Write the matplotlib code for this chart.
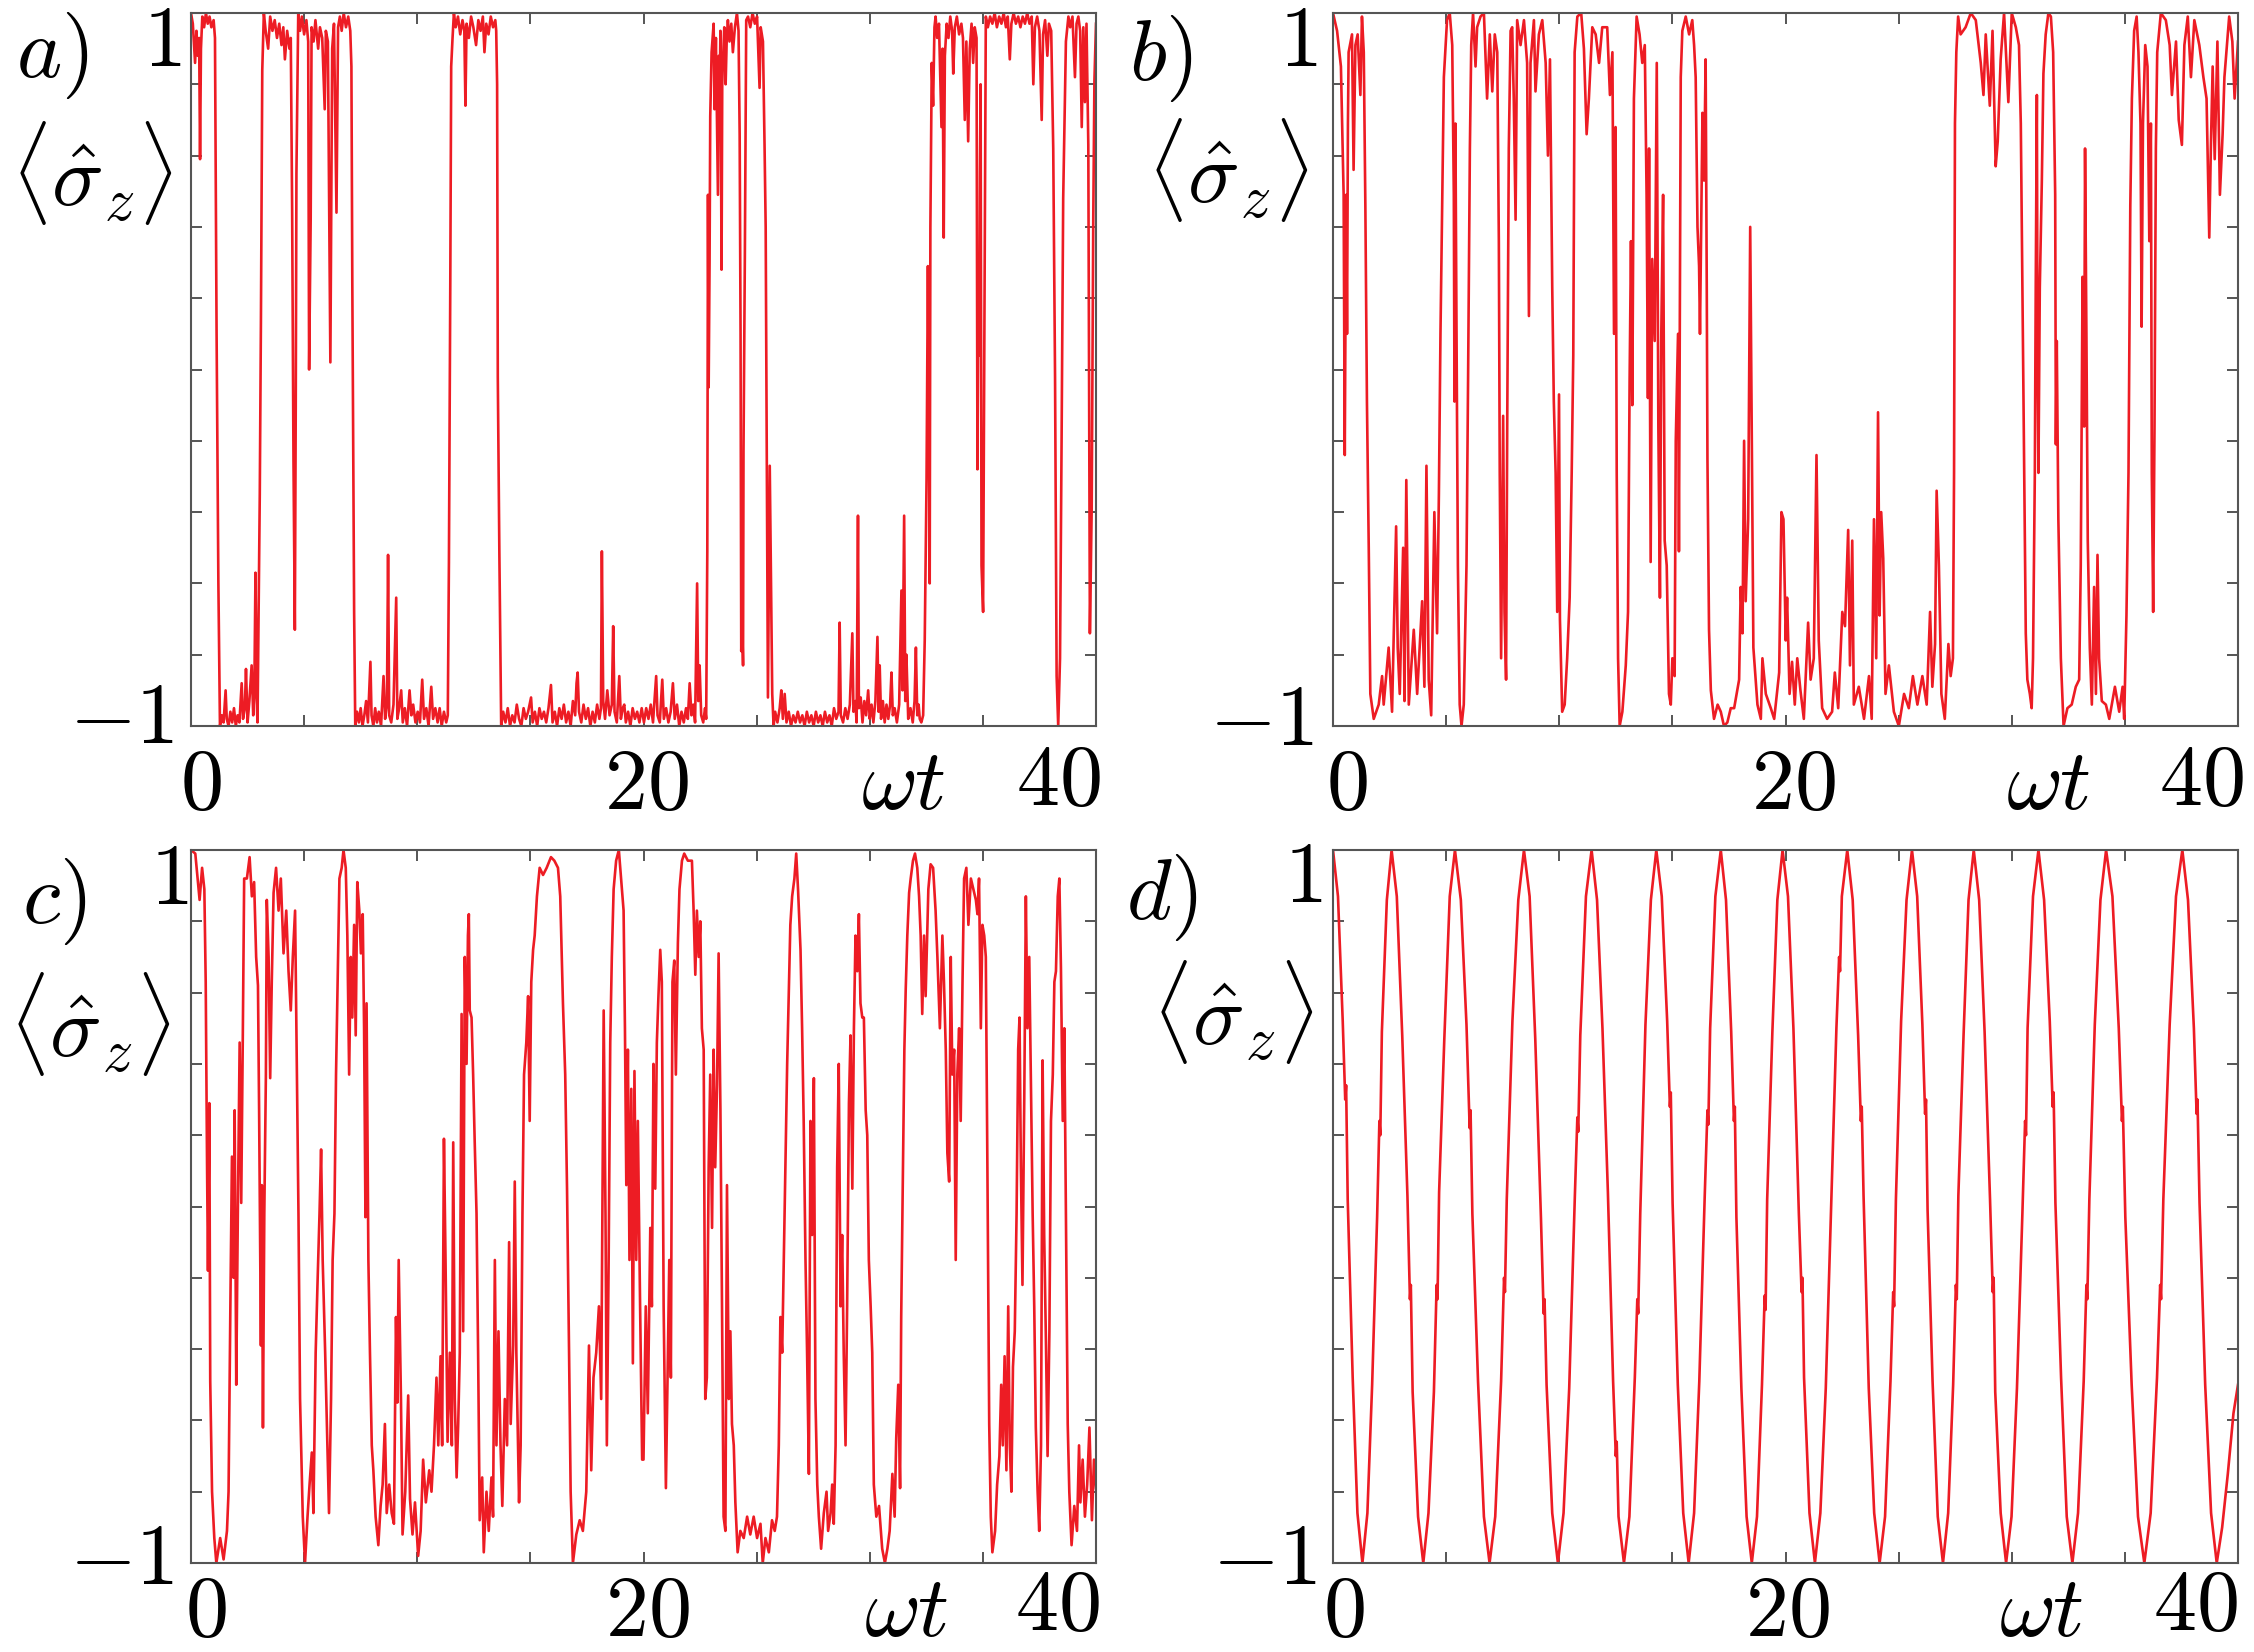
import matplotlib
matplotlib.use("Agg")
import matplotlib.pyplot as plt
import numpy as np

plt.rcParams['mathtext.fontset'] = 'cm'
plt.rcParams['font.family'] = 'serif'

# <sigma_z>(omega t), (t, value) pairs
trace_a = [
    (0.00, 1.00), (0.08, 0.97), (0.18, 0.86), (0.24, 0.95), (0.30, 0.88), (0.36, 0.93), (0.40, 0.59),
    (0.44, 0.90), (0.50, 0.99), (0.58, 0.96), (0.66, 1.00), (0.74, 0.97), (0.82, 0.99), (0.90, 0.96),
    (1.00, 0.98), (1.06, 0.93), (1.13, 0.11), (1.21, -0.60), (1.28, -1.00), (1.36, -0.97), (1.44, -0.99),
    (1.53, -0.90), (1.58, -0.98), (1.66, -1.00), (1.74, -0.96), (1.82, -0.99), (1.90, -0.95), (1.98, -1.00),
    (2.06, -0.97), (2.14, -0.99), (2.24, -0.88), (2.30, -0.98), (2.38, -0.95), (2.43, -0.84), (2.50, -0.99),
    (2.58, -0.93), (2.68, -0.83), (2.75, -0.97), (2.80, -0.90), (2.85, -0.57), (2.90, -0.92), (2.94, -0.99),
    (3.04, -0.35), (3.09, 0.13), (3.15, 0.84), (3.22, 1.00), (3.30, 0.95), (3.41, 0.90), (3.50, 0.99),
    (3.60, 0.95), (3.70, 0.98), (3.80, 0.93), (3.90, 0.97), (4.00, 0.91), (4.08, 0.96), (4.15, 0.87),
    (4.25, 0.95), (4.35, 0.90), (4.41, 0.93), (4.47, 0.45), (4.53, -0.26), (4.59, -0.73), (4.63, -0.10),
    (4.66, 0.55), (4.74, 1.00), (4.82, 0.95), (4.90, 0.99), (5.00, 0.94), (5.10, 0.98), (5.18, 0.92),
    (5.22, 0.00), (5.29, 0.42), (5.33, 0.96), (5.42, 0.92), (5.50, 0.98), (5.62, 0.90), (5.70, 0.96),
    (5.80, 0.93), (5.91, 0.73), (5.96, 0.95), (6.05, 0.92), (6.16, 0.02), (6.24, 0.90), (6.32, 0.97),
    (6.43, 0.44), (6.50, 0.96), (6.58, 0.99), (6.66, 0.95), (6.75, 1.00), (6.85, 0.96), (6.95, 0.99),
    (7.04, 0.95), (7.09, 0.85), (7.13, 0.24), (7.21, -0.68), (7.26, -1.00), (7.34, -0.96), (7.42, -0.99),
    (7.50, -0.95), (7.58, -1.00), (7.66, -0.97), (7.74, -0.93), (7.82, -0.99), (7.93, -0.82), (7.98, -0.97),
    (8.06, -1.00), (8.14, -0.95), (8.22, -0.99), (8.30, -0.96), (8.40, -1.00), (8.51, -0.86), (8.58, -0.98),
    (8.66, -0.94), (8.71, -0.52), (8.76, -0.97), (8.85, -0.99), (8.95, -0.94), (9.07, -0.64), (9.12, -0.98),
    (9.20, -0.95), (9.29, -0.90), (9.36, -0.99), (9.45, -0.95), (9.55, -1.00), (9.66, -0.90), (9.74, -0.97),
    (9.82, -0.94), (9.92, -0.99), (10.02, -0.96), (10.12, -0.99), (10.22, -0.87), (10.30, -0.98), (10.40, -0.95),
    (10.50, -1.00), (10.62, -0.89), (10.70, -0.98), (10.80, -0.95), (10.90, -0.99), (10.99, -0.95), (11.08, -1.00),
    (11.18, -0.96), (11.28, -0.99), (11.35, -0.97), (11.40, -0.54), (11.46, 0.24), (11.50, 0.85), (11.56, 0.93),
    (11.62, 1.00), (11.70, 0.96), (11.80, 0.99), (11.90, 0.94), (12.00, 0.98), (12.08, 0.95), (12.13, 0.74),
    (12.18, 0.97), (12.28, 0.93), (12.38, 0.99), (12.48, 0.96), (12.60, 0.91), (12.70, 0.98), (12.80, 0.95),
    (12.90, 0.99), (12.97, 0.89), (13.05, 0.97), (13.15, 0.94), (13.25, 0.99), (13.35, 0.96), (13.45, 0.98),
    (13.49, 0.95), (13.53, 0.80), (13.56, -0.02), (13.63, -0.52), (13.71, -1.00), (13.80, -0.96), (13.90, -0.99),
    (14.00, -0.95), (14.10, -1.00), (14.20, -0.97), (14.30, -0.99), (14.40, -0.94), (14.50, -0.98), (14.60, -1.00),
    (14.70, -0.95), (14.80, -0.98), (14.90, -0.96), (15.03, -0.92), (15.10, -0.99), (15.20, -0.96), (15.30, -1.00),
    (15.40, -0.95), (15.50, -0.98), (15.60, -0.96), (15.70, -0.99), (15.80, -0.95), (15.91, -0.885), (15.98, -0.99),
    (16.08, -0.96), (16.18, -1.00), (16.28, -0.95), (16.38, -0.98), (16.48, -0.94), (16.58, -0.99), (16.68, -0.96),
    (16.78, -1.00), (16.88, -0.93), (16.98, -0.97), (17.04, -0.88), (17.09, -0.85), (17.15, -0.96), (17.25, -0.99),
    (17.35, -0.94), (17.45, -0.98), (17.55, -0.95), (17.65, -1.00), (17.75, -0.96), (17.85, -0.99), (17.95, -0.94),
    (18.05, -0.98), (18.12, -0.95), (18.16, -0.51), (18.22, -0.93), (18.30, -0.98), (18.40, -0.90), (18.50, -0.97),
    (18.60, -0.94), (18.66, -0.72), (18.72, -0.96), (18.82, -0.99), (18.93, -0.86), (19.00, -0.98), (19.08, -0.95),
    (19.15, -0.94), (19.22, -0.99), (19.32, -0.96), (19.42, -1.00), (19.52, -0.95), (19.62, -0.98), (19.72, -0.96),
    (19.82, -0.99), (19.92, -0.95), (20.02, -0.99), (20.12, -0.95), (20.22, -0.98), (20.32, -0.94), (20.42, -0.99),
    (20.56, -0.86), (20.62, -0.97), (20.72, -0.99), (20.83, -0.87), (20.90, -0.98), (21.00, -0.95), (21.10, -0.99),
    (21.20, -0.96), (21.30, -0.88), (21.38, -0.98), (21.48, -0.94), (21.58, -1.00), (21.68, -0.96), (21.78, -0.99),
    (21.88, -0.95), (21.96, -0.98), (22.04, -0.88), (22.12, -0.97), (22.20, -0.94), (22.28, -0.99), (22.37, -0.60),
    (22.42, -0.93), (22.48, -0.83), (22.55, -0.97), (22.64, -0.99), (22.72, -0.95), (22.77, -0.98), (22.82, -0.51),
    (22.85, 0.49), (22.88, -0.05), (22.92, 0.30), (22.95, 0.71), (23.01, 0.89), (23.10, 0.97), (23.14, 0.73),
    (23.20, 0.93), (23.29, 0.49), (23.33, 0.88), (23.36, 0.74), (23.40, 0.95), (23.45, 0.28), (23.48, 0.80),
    (23.51, 0.86), (23.57, 0.96), (23.63, 0.80), (23.68, 0.93), (23.73, 0.98), (23.80, 0.92), (23.88, 0.97),
    (23.95, 0.89), (24.04, 0.96), (24.13, 1.00), (24.20, 0.95), (24.25, 0.66), (24.29, 0.10), (24.32, -0.79),
    (24.36, -0.70), (24.40, -0.83), (24.42, -0.23), (24.48, 0.32), (24.54, 0.98), (24.62, 0.99), (24.72, 0.96),
    (24.82, 1.00), (24.92, 0.97), (25.02, 0.99), (25.13, 0.79), (25.18, 0.96), (25.28, 0.92), (25.35, 0.63),
    (25.40, 0.40), (25.46, -0.42), (25.50, -0.92), (25.58, -0.27), (25.65, -0.68), (25.69, -0.91), (25.75, -1.00),
    (25.82, -0.96), (25.92, -0.99), (26.02, -0.95), (26.09, -0.90), (26.16, -0.98), (26.24, -0.91), (26.32, -0.99),
    (26.42, -0.96), (26.52, -1.00), (26.62, -0.97), (26.72, -0.99), (26.82, -0.96), (26.92, -0.99), (27.02, -0.97),
    (27.12, -1.00), (27.22, -0.96), (27.32, -0.99), (27.42, -0.97), (27.52, -1.00), (27.62, -0.96), (27.72, -0.99),
    (27.82, -0.97), (27.92, -1.00), (28.02, -0.96), (28.12, -0.99), (28.22, -0.97), (28.32, -1.00), (28.42, -0.95),
    (28.52, -0.98), (28.62, -0.96), (28.67, -0.71), (28.72, -0.97), (28.82, -0.99), (28.92, -0.95), (29.02, -0.98),
    (29.12, -0.94), (29.23, -0.74), (29.28, -0.96), (29.36, -0.93), (29.42, -0.99), (29.48, -0.41), (29.52, -0.95),
    (29.60, -0.92), (29.68, -0.99), (29.76, -0.93), (29.84, -0.97), (29.93, -0.90), (30.00, -0.98), (30.08, -0.94),
    (30.16, -0.99), (30.25, -0.93), (30.34, -0.75), (30.39, -0.96), (30.44, -0.83), (30.50, -0.98), (30.58, -0.93),
    (30.66, -0.99), (30.74, -0.94), (30.82, -0.98), (30.90, -0.94), (30.96, -0.85), (31.02, -0.97), (31.10, -0.95),
    (31.20, -0.99), (31.30, -0.94), (31.40, -0.62), (31.45, -0.90), (31.52, -0.41), (31.57, -0.93), (31.62, -0.80),
    (31.70, -0.98), (31.80, -0.95), (31.90, -0.99), (31.98, -0.93), (32.04, -0.78), (32.10, -0.97), (32.16, -0.94),
    (32.21, -0.98), (32.28, -0.99), (32.36, -0.97), (32.43, -0.76), (32.51, -0.31), (32.57, 0.29), (32.62, -0.20),
    (32.65, -0.60), (32.68, 0.40), (32.74, 0.86), (32.80, 0.74), (32.86, 0.96), (32.91, 0.99), (32.98, 0.93),
    (33.06, 0.97), (33.17, 0.68), (33.22, 0.90), (33.27, 0.37), (33.32, 0.88), (33.40, 0.97), (33.48, 0.93),
    (33.56, 0.99), (33.64, 0.95), (33.69, 0.83), (33.76, 0.96), (33.85, 0.99), (33.95, 0.94), (34.05, 0.97),
    (34.12, 0.93), (34.20, 0.70), (34.27, 0.92), (34.35, 0.64), (34.42, 0.90), (34.50, 0.97), (34.57, 0.86),
    (34.64, 0.96), (34.72, 0.93), (34.76, -0.28), (34.80, 0.20), (34.84, 0.04), (34.87, 0.55), (34.90, 0.80),
    (34.94, -0.55), (35.01, -0.68), (35.05, -0.10), (35.09, 0.50), (35.13, 0.99), (35.22, 0.96), (35.32, 0.99),
    (35.42, 0.97), (35.52, 1.00), (35.62, 0.96), (35.72, 0.99), (35.82, 0.97), (35.92, 1.00), (36.02, 0.96),
    (36.10, 0.99), (36.19, 0.87), (36.26, 0.97), (36.36, 1.00), (36.46, 0.97), (36.56, 0.99), (36.66, 0.96),
    (36.76, 0.99), (36.86, 0.97), (36.96, 1.00), (37.06, 0.97), (37.16, 0.99), (37.23, 0.80), (37.30, 0.96),
    (37.40, 0.99), (37.50, 0.95), (37.60, 0.70), (37.66, 0.94), (37.75, 0.98), (37.85, 0.88), (37.92, 0.97),
    (38.02, 0.95), (38.11, 0.62), (38.19, -0.02), (38.26, -0.86), (38.33, -1.00), (38.41, -0.81), (38.48, -0.19),
    (38.55, 0.48), (38.67, 0.92), (38.78, 0.99), (38.86, 0.96), (38.96, 0.99), (39.07, 0.82), (39.14, 0.97),
    (39.22, 0.99), (39.30, 0.95), (39.37, 0.68), (39.44, 0.96), (39.51, 0.75), (39.58, 0.97), (39.66, 0.63),
    (39.73, -0.74), (39.81, -0.39), (39.88, 0.43), (39.93, 0.81), (40.00, 0.97),
]

trace_b = [
    (0.00, 1.00), (0.18, 0.95), (0.35, 0.85), (0.47, 0.49), (0.52, -0.24), (0.58, 0.49), (0.62, 0.10),
    (0.66, 0.69), (0.69, 0.89), (0.84, 0.94), (0.91, 0.56), (0.99, 0.91), (1.09, 0.94), (1.21, 0.77),
    (1.28, 0.99), (1.36, 0.89), (1.43, 0.46), (1.50, -0.09), (1.58, -0.50), (1.65, -0.91), (1.80, -0.98),
    (2.02, -0.94), (2.17, -0.86), (2.24, -0.94), (2.46, -0.78), (2.61, -0.96), (2.79, -0.44), (2.86, -0.78),
    (2.95, -0.91), (3.10, -0.50), (3.16, -0.93), (3.24, -0.31), (3.35, -0.94), (3.57, -0.73), (3.72, -0.91),
    (3.94, -0.65), (4.04, -0.89), (4.13, -0.27), (4.23, -0.87), (4.34, -0.97), (4.48, -0.40), (4.60, -0.74),
    (4.68, -0.35), (4.75, 0.10), (4.82, 0.43), (4.90, 0.82), (5.04, 0.98), (5.16, 1.00), (5.27, 0.91),
    (5.34, 0.49), (5.37, -0.09), (5.41, 0.69), (5.46, 0.10), (5.52, -0.55), (5.60, -0.94), (5.68, -1.00),
    (5.78, -0.94), (5.90, -0.55), (5.97, -0.03), (6.05, 0.62), (6.11, 0.91), (6.19, 1.00), (6.30, 0.85),
    (6.37, 0.96), (6.52, 0.99), (6.67, 1.00), (6.81, 0.76), (6.93, 0.94), (7.04, 0.78), (7.15, 0.94),
    (7.26, 0.89), (7.33, 0.36), (7.37, -0.29), (7.43, -0.81), (7.52, -0.13), (7.58, -0.68), (7.65, -0.87),
    (7.70, -0.16), (7.77, 0.62), (7.85, 0.95), (7.92, 0.96), (7.99, 0.76), (8.07, 0.42), (8.14, 0.98),
    (8.29, 0.91), (8.44, 0.98), (8.58, 0.86), (8.66, 0.15), (8.73, 0.86), (8.88, 0.98), (8.95, 0.78),
    (9.10, 0.94), (9.25, 0.98), (9.40, 0.86), (9.50, 0.60), (9.59, 0.87), (9.69, 0.23), (9.76, -0.09),
    (9.84, -0.29), (9.91, -0.68), (9.99, -0.07), (10.03, -0.70), (10.13, -0.96), (10.24, -0.94), (10.35, -0.81),
    (10.46, -0.64), (10.55, -0.29), (10.62, 0.04), (10.68, 0.89), (10.80, 0.99), (10.97, 1.00), (11.09, 0.90),
    (11.21, 0.66), (11.31, 0.76), (11.46, 0.96), (11.61, 0.94), (11.76, 0.86), (11.90, 0.96), (12.12, 0.96),
    (12.24, 0.77), (12.35, 0.89), (12.42, 0.10), (12.49, 0.68), (12.54, -0.29), (12.60, -0.81), (12.67, -1.00),
    (12.79, -0.96), (12.94, -0.83), (13.04, -0.68), (13.11, -0.03), (13.17, 0.36), (13.23, -0.10), (13.30, 0.76),
    (13.42, 0.99), (13.55, 0.94), (13.67, 0.86), (13.78, 0.91), (13.86, 0.49), (13.92, -0.08), (13.97, 0.62),
    (14.04, -0.54), (14.11, 0.31), (14.22, 0.08), (14.31, 0.86), (14.38, -0.16), (14.45, -0.64), (14.51, 0.10),
    (14.59, 0.49), (14.66, -0.48), (14.75, -0.55), (14.85, -0.91), (14.93, -0.94), (15.00, -0.81), (15.10, -0.86),
    (15.15, -0.20), (15.25, 0.10), (15.29, -0.51), (15.37, 0.82), (15.44, 0.95), (15.59, 0.99), (15.74, 0.94),
    (15.88, 0.98), (15.96, 0.91), (16.03, 0.82), (16.11, 0.40), (16.18, 0.29), (16.22, 0.10), (16.33, 0.72),
    (16.40, 0.53), (16.47, 0.87), (16.52, 0.23), (16.55, -0.25), (16.62, -0.73), (16.70, -0.90), (16.84, -0.98),
    (17.00, -0.94), (17.14, -0.96), (17.28, -1.00), (17.43, -0.99), (17.58, -0.95), (17.73, -0.95), (17.95, -0.87),
    (18.02, -0.61), (18.10, -0.74), (18.17, -0.20), (18.24, -0.65), (18.35, -0.42), (18.44, 0.40), (18.50, -0.09),
    (18.58, -0.78), (18.76, -0.94), (18.91, -0.98), (18.98, -0.81), (19.13, -0.91), (19.35, -0.95), (19.50, -0.98),
    (19.72, -0.85), (19.82, -0.40), (19.91, -0.42), (20.01, -0.76), (20.07, -0.64), (20.18, -0.91), (20.29, -0.82),
    (20.41, -0.94), (20.52, -0.81), (20.66, -0.90), (20.81, -0.98), (21.00, -0.71), (21.11, -0.87), (21.25, -0.81),
    (21.37, -0.24), (21.47, -0.76), (21.62, -0.95), (21.84, -0.98), (22.06, -0.96), (22.18, -0.85), (22.33, -0.95),
    (22.51, -0.68), (22.63, -0.72), (22.77, -0.45), (22.85, -0.83), (22.95, -0.48), (23.02, -0.94), (23.24, -0.89),
    (23.47, -0.98), (23.69, -0.86), (23.81, -0.98), (23.91, -0.42), (24.01, -0.81), (24.09, -0.12), (24.16, -0.69),
    (24.23, -0.40), (24.32, -0.53), (24.42, -0.91), (24.57, -0.83), (24.79, -0.96), (25.01, -1.00), (25.24, -0.91),
    (25.45, -0.95), (25.63, -0.86), (25.83, -0.94), (26.05, -0.86), (26.24, -0.94), (26.39, -0.68), (26.49, -0.89),
    (26.61, -0.77), (26.68, -0.34), (26.78, -0.55), (26.89, -0.91), (27.04, -0.98), (27.20, -0.77), (27.30, -0.86),
    (27.40, -0.81), (27.45, -0.29), (27.49, 0.69), (27.55, 0.89), (27.63, 0.99), (27.74, 0.94), (27.96, 0.96),
    (28.19, 1.00), (28.41, 0.98), (28.63, 0.86), (28.75, 0.77), (28.85, 0.94), (29.03, 0.74), (29.15, 0.95),
    (29.29, 0.57), (29.38, 0.64), (29.51, 0.87), (29.66, 1.00), (29.85, 0.75), (30.00, 1.00), (30.18, 0.96),
    (30.32, 0.91), (30.40, 0.69), (30.47, 0.23), (30.55, -0.29), (30.62, -0.74), (30.69, -0.87), (30.80, -0.91),
    (30.88, -0.95), (30.94, -0.81), (31.02, -0.29), (31.06, 0.23), (31.11, 0.77), (31.14, 0.04), (31.18, -0.29),
    (31.24, 0.23), (31.33, 0.53), (31.40, 0.83), (31.50, 0.94), (31.62, 1.00), (31.73, 0.99), (31.83, 0.89),
    (31.92, 0.49), (31.95, -0.21), (31.99, 0.08), (32.06, -0.42), (32.17, -0.81), (32.29, -1.00), (32.46, -0.95),
    (32.65, -0.94), (32.83, -0.89), (32.98, -0.87), (33.05, -0.55), (33.13, 0.26), (33.20, -0.16), (33.24, 0.62),
    (33.30, 0.10), (33.36, -0.48), (33.45, -0.78), (33.54, -0.94), (33.64, -0.61), (33.72, -0.91), (33.79, -0.52),
    (33.86, -0.81), (33.98, -0.93), (34.16, -0.94), (34.31, -0.98), (34.56, -0.89), (34.75, -0.96), (34.90, -0.89),
    (34.97, -0.98), (35.07, -0.69), (35.16, -0.29), (35.24, 0.46), (35.31, 0.76), (35.41, 0.95), (35.52, 0.99),
    (35.60, 0.89), (35.69, 0.69), (35.74, 0.12), (35.80, 0.69), (35.90, 0.91), (36.00, 0.85), (36.08, 0.36),
    (36.15, 0.69), (36.19, -0.29), (36.25, -0.68), (36.31, -0.16), (36.37, 0.62), (36.43, 0.89), (36.59, 1.00),
    (36.81, 0.98), (36.98, 0.91), (37.08, 0.77), (37.26, 0.92), (37.38, 0.70), (37.52, 0.63), (37.63, 0.91),
    (37.78, 0.99), (37.92, 0.82), (38.07, 0.98), (38.29, 0.91), (38.47, 0.82), (38.61, 0.76), (38.73, 0.37),
    (38.80, 0.62), (38.88, 0.85), (38.97, 0.59), (39.09, 0.92), (39.20, 0.49), (39.32, 0.66), (39.40, 0.82),
    (39.61, 0.99), (39.75, 0.92), (39.85, 0.76), (40.00, 0.92),
]

trace_c = [
    (0.00, 1.00), (0.19, 0.99), (0.38, 0.86), (0.49, 0.95), (0.59, 0.89), (0.65, 0.63), (0.71, 0.11),
    (0.75, -0.18), (0.81, 0.29), (0.85, -0.49), (0.93, -0.80), (1.03, -0.93), (1.12, -1.00), (1.29, -0.93),
    (1.44, -0.99), (1.59, -0.91), (1.66, -0.80), (1.74, -0.28), (1.81, 0.14), (1.88, -0.20), (1.93, 0.27),
    (2.00, -0.50), (2.07, -0.02), (2.15, 0.46), (2.22, 0.01), (2.29, 0.48), (2.35, 0.92), (2.47, 0.92),
    (2.59, 0.98), (2.69, 0.87), (2.79, 0.91), (2.88, 0.70), (2.96, 0.62), (3.01, 0.27), (3.09, -0.39),
    (3.13, 0.06), (3.18, -0.62), (3.24, -0.02), (3.31, 0.37), (3.35, 0.86), (3.43, 0.70), (3.50, 0.36),
    (3.57, 0.63), (3.65, 0.88), (3.76, 0.95), (3.87, 0.83), (3.97, 0.92), (4.09, 0.71), (4.21, 0.83),
    (4.31, 0.66), (4.41, 0.55), (4.50, 0.70), (4.60, 0.83), (4.68, 0.37), (4.75, -0.02), (4.82, -0.54),
    (4.94, -0.87), (5.04, -1.00), (5.15, -0.87), (5.24, -0.78), (5.34, -0.69), (5.41, -0.86), (5.51, -0.41),
    (5.59, -0.22), (5.68, -0.02), (5.75, 0.16), (5.82, -0.15), (5.93, -0.41), (6.03, -0.67), (6.10, -0.86),
    (6.19, -0.54), (6.26, -0.15), (6.34, -0.02), (6.41, 0.37), (6.49, 0.67), (6.56, 0.92), (6.66, 0.95),
    (6.74, 1.00), (6.84, 0.95), (6.91, 0.76), (6.99, 0.37), (7.06, 0.70), (7.13, 0.53), (7.21, 0.79),
    (7.28, 0.48), (7.35, 0.91), (7.44, 0.83), (7.51, 0.71), (7.59, 0.82), (7.65, 0.50), (7.71, -0.03),
    (7.76, 0.57), (7.84, -0.15), (7.91, -0.41), (7.99, -0.67), (8.06, -0.74), (8.16, -0.87), (8.28, -0.95),
    (8.38, -0.84), (8.47, -0.78), (8.57, -0.61), (8.65, -0.86), (8.76, -0.78), (8.87, -0.86), (8.97, -0.89),
    (9.06, -0.31), (9.12, -0.55), (9.18, -0.15), (9.28, -0.54), (9.35, -0.92), (9.47, -0.80), (9.60, -0.53),
    (9.68, -0.82), (9.79, -0.92), (9.90, -0.83), (10.04, -0.98), (10.15, -0.91), (10.26, -0.71), (10.38, -0.83),
    (10.53, -0.74), (10.63, -0.80), (10.74, -0.67), (10.85, -0.48), (10.93, -0.67), (11.03, -0.42), (11.10, -0.67),
    (11.18, 0.19), (11.25, -0.15), (11.34, -0.66), (11.44, -0.41), (11.53, -0.67), (11.59, 0.18), (11.66, -0.54),
    (11.74, -0.76), (11.81, -0.61), (11.88, -0.41), (11.96, 0.54), (12.03, -0.35), (12.10, 0.70), (12.18, 0.40),
    (12.24, 0.76), (12.28, 0.82), (12.32, 0.55), (12.40, 0.53), (12.47, 0.37), (12.54, 0.18), (12.62, -0.02),
    (12.69, -0.41), (12.76, -0.88), (12.87, -0.76), (12.94, -0.97), (13.06, -0.80), (13.16, -0.91), (13.28, -0.76),
    (13.35, -0.87), (13.43, -0.15), (13.50, -0.67), (13.59, -0.35), (13.68, -0.67), (13.76, -0.84), (13.87, -0.54),
    (13.97, -0.67), (14.06, -0.10), (14.13, -0.61), (14.24, -0.39), (14.31, 0.07), (14.38, -0.41), (14.50, -0.83),
    (14.57, -0.67), (14.65, -0.02), (14.72, 0.37), (14.82, 0.46), (14.90, 0.59), (14.97, 0.24), (15.04, 0.63),
    (15.12, 0.72), (15.19, 0.76), (15.29, 0.87), (15.41, 0.95), (15.56, 0.93), (15.72, 0.95), (15.91, 0.98),
    (16.06, 0.97), (16.22, 0.95), (16.32, 0.87), (16.44, 0.57), (16.54, 0.37), (16.62, 0.05), (16.71, -0.41),
    (16.78, -0.80), (16.88, -1.00), (17.03, -0.92), (17.18, -0.88), (17.32, -0.91), (17.47, -0.80), (17.59, -0.39),
    (17.69, -0.74), (17.79, -0.48), (17.91, -0.41), (18.03, -0.28), (18.13, -0.54), (18.24, 0.55), (18.32, -0.02),
    (18.38, -0.67), (18.46, -0.15), (18.53, 0.46), (18.60, 0.70), (18.68, 0.89), (18.79, 0.97), (18.91, 1.00),
    (19.01, 0.92), (19.12, 0.83), (19.18, 0.50), (19.24, 0.06), (19.31, 0.44), (19.38, -0.15), (19.46, 0.33),
    (19.53, -0.44), (19.60, 0.38), (19.68, -0.15), (19.75, 0.24), (19.85, -0.28), (19.94, -0.71), (20.00, -0.71),
    (20.10, -0.28), (20.19, -0.58), (20.30, -0.06), (20.37, -0.28), (20.44, 0.40), (20.52, 0.05), (20.59, 0.46),
    (20.66, 0.59), (20.74, 0.72), (20.81, 0.63), (20.89, -0.28), (20.99, -0.79), (21.08, -0.41), (21.14, -0.15),
    (21.21, -0.48), (21.28, 0.63), (21.36, 0.69), (21.43, 0.37), (21.52, 0.74), (21.59, 0.89), (21.70, 0.97),
    (21.80, 0.99), (21.96, 0.97), (22.14, 0.97), (22.21, 0.84), (22.29, 0.65), (22.36, 0.83), (22.44, 0.70),
    (22.51, 0.80), (22.58, 0.50), (22.66, 0.44), (22.73, -0.54), (22.80, -0.48), (22.88, 0.11), (22.95, 0.37),
    (23.03, -0.06), (23.10, 0.44), (23.17, 0.11), (23.25, 0.34), (23.32, 0.71), (23.40, 0.27), (23.47, -0.28),
    (23.54, -0.87), (23.62, -0.91), (23.69, 0.06), (23.77, -0.54), (23.84, -0.35), (23.91, -0.61), (23.99, -0.67),
    (24.06, -0.83), (24.16, -0.97), (24.28, -0.91), (24.43, -0.93), (24.58, -0.87), (24.72, -0.92), (24.87, -0.87),
    (25.02, -0.93), (25.17, -0.89), (25.27, -1.00), (25.39, -0.93), (25.54, -0.97), (25.68, -0.88), (25.80, -0.91),
    (25.90, -0.87), (25.98, -0.67), (26.05, -0.31), (26.13, -0.41), (26.20, -0.15), (26.27, 0.11), (26.35, 0.40),
    (26.42, 0.59), (26.49, 0.79), (26.57, 0.87), (26.67, 0.92), (26.75, 0.99), (26.83, 0.89), (26.94, 0.72),
    (27.01, 0.50), (27.08, 0.24), (27.16, -0.15), (27.23, -0.41), (27.31, -0.75), (27.38, 0.24), (27.45, -0.08),
    (27.53, 0.36), (27.60, -0.54), (27.68, -0.78), (27.75, -0.87), (27.85, -0.96), (27.97, -0.86), (28.09, -0.80),
    (28.16, -0.91), (28.27, -0.86), (28.34, -0.78), (28.41, -0.89), (28.49, -0.67), (28.56, 0.11), (28.63, 0.40),
    (28.71, -0.28), (28.78, -0.08), (28.85, -0.41), (28.93, -0.67), (29.00, -0.28), (29.08, 0.29), (29.15, 0.48),
    (29.23, 0.05), (29.30, 0.50), (29.37, 0.76), (29.45, 0.66), (29.52, 0.82), (29.59, 0.57), (29.67, 0.53),
    (29.74, 0.53), (29.82, 0.27), (29.89, 0.20), (29.96, -0.15), (30.04, -0.28), (30.11, -0.41), (30.18, -0.78),
    (30.29, -0.87), (30.41, -0.84), (30.55, -0.96), (30.67, -1.00), (30.78, -0.96), (30.88, -0.91), (31.00, -0.75),
    (31.10, -0.87), (31.17, -0.65), (31.26, -0.50), (31.34, -0.79), (31.39, -0.31), (31.47, 0.11), (31.53, 0.44),
    (31.59, 0.61), (31.66, 0.76), (31.74, 0.88), (31.81, 0.92), (31.91, 0.97), (32.00, 0.99), (32.10, 0.95),
    (32.18, 0.87), (32.25, 0.76), (32.32, 0.54), (32.40, 0.76), (32.47, 0.59), (32.59, 0.89), (32.69, 0.96),
    (32.80, 0.95), (32.91, 0.83), (32.99, 0.70), (33.10, 0.50), (33.21, 0.76), (33.28, 0.63), (33.36, 0.44),
    (33.43, 0.15), (33.51, 0.07), (33.58, 0.70), (33.65, 0.37), (33.73, 0.44), (33.80, -0.15), (33.87, 0.37),
    (33.95, 0.50), (34.02, 0.24), (34.10, 0.63), (34.17, 0.92), (34.27, 0.95), (34.36, 0.79), (34.47, 0.92),
    (34.58, 0.89), (34.69, 0.86), (34.76, 0.82), (34.83, 0.92), (34.91, 0.50), (34.98, 0.79), (35.06, 0.76),
    (35.13, 0.70), (35.20, 0.11), (35.28, -0.61), (35.35, -0.87), (35.42, -0.97), (35.54, -0.91), (35.63, -0.78),
    (35.73, -0.70), (35.81, -0.50), (35.88, -0.67), (35.96, -0.42), (36.04, -0.74), (36.12, -0.28), (36.19, -0.67),
    (36.26, -0.80), (36.33, -0.45), (36.41, -0.35), (36.49, -0.02), (36.56, 0.44), (36.62, 0.53), (36.68, 0.11),
    (36.75, -0.22), (36.83, 0.31), (36.90, 0.87), (36.97, 0.50), (37.05, 0.70), (37.12, 0.37), (37.20, -0.02),
    (37.27, -0.28), (37.34, -0.62), (37.42, -0.80), (37.49, -0.91), (37.57, -0.67), (37.64, 0.41), (37.71, -0.08),
    (37.79, -0.39), (37.86, -0.70), (37.94, -0.35), (38.01, 0.24), (38.09, 0.37), (38.16, 0.63), (38.23, 0.66),
    (38.31, 0.87), (38.38, 0.92), (38.45, 0.67), (38.53, 0.24), (38.60, 0.50), (38.67, -0.02), (38.75, -0.61),
    (38.82, -0.80), (38.92, -0.95), (39.04, -0.84), (39.16, -0.91), (39.25, -0.67), (39.31, -0.83), (39.41, -0.71),
    (39.51, -0.87), (39.61, -0.78), (39.71, -0.62), (39.82, -0.88), (39.91, -0.71), (40.00, -0.79),
]

trace_d = [
    (0.00, 1.00), (0.22, 0.87), (0.43, 0.52), (0.54, 0.30), (0.58, 0.34), (0.65, 0.02), (0.87, -0.48),
    (1.08, -0.86), (1.30, -1.00), (1.52, -0.86), (1.73, -0.50), (1.95, -0.03), (2.05, 0.24), (2.09, 0.20),
    (2.16, 0.49), (2.38, 0.86), (2.59, 1.00), (2.82, 0.87), (3.06, 0.48), (3.29, 0.03), (3.40, -0.26),
    (3.44, -0.22), (3.52, -0.52), (3.76, -0.87), (3.99, -1.00), (4.22, -0.86), (4.46, -0.52), (4.58, -0.22),
    (4.62, -0.26), (4.69, 0.04), (4.92, 0.47), (5.16, 0.87), (5.39, 1.00), (5.65, 0.86), (5.90, 0.51),
    (6.04, 0.22), (6.08, 0.27), (6.16, -0.02), (6.41, -0.49), (6.67, -0.87), (6.92, -1.00), (7.17, -0.87),
    (7.43, -0.49), (7.56, -0.20), (7.60, -0.24), (7.68, 0.02), (7.93, 0.52), (8.19, 0.86), (8.44, 1.00),
    (8.69, 0.87), (8.94, 0.47), (9.19, -0.03), (9.31, -0.30), (9.35, -0.26), (9.44, -0.50), (9.69, -0.86),
    (9.94, -1.00), (10.19, -0.86), (10.44, -0.51), (10.69, 0.03), (10.80, 0.25), (10.84, 0.21), (10.93, 0.48),
    (11.18, 0.87), (11.43, 1.00), (11.67, 0.86), (11.91, 0.50), (12.15, 0.04), (12.38, -0.49), (12.50, -0.70),
    (12.54, -0.66), (12.62, -0.87), (12.86, -1.00), (13.10, -0.87), (13.34, -0.48), (13.45, -0.26),
    (13.49, -0.30), (13.58, -0.02), (13.81, 0.51), (14.05, 0.86), (14.29, 1.00), (14.53, 0.87), (14.77, 0.52),
    (14.89, 0.28), (14.93, 0.32), (15.01, 0.01), (15.24, -0.50), (15.48, -0.86), (15.72, -1.00), (15.96, -0.86),
    (16.19, -0.49), (16.43, 0.03), (16.55, 0.27), (16.59, 0.23), (16.67, 0.50), (16.90, 0.87), (17.14, 1.00),
    (17.37, 0.86), (17.60, 0.49), (17.72, 0.24), (17.76, 0.28), (17.83, -0.03), (18.05, -0.51), (18.28, -0.87),
    (18.51, -1.00), (18.74, -0.87), (18.96, -0.50), (19.08, -0.25), (19.12, -0.29), (19.19, 0.02), (19.42, 0.49),
    (19.64, 0.86), (19.87, 1.00), (20.11, 0.87), (20.35, 0.50), (20.59, -0.02), (20.71, -0.24), (20.75, -0.20),
    (20.82, -0.48), (21.06, -0.86), (21.30, -1.00), (21.54, -0.86), (21.78, -0.51), (22.02, 0.01), (22.25, 0.50),
    (22.37, 0.70), (22.41, 0.66), (22.49, 0.87), (22.73, 1.00), (22.97, 0.86), (23.21, 0.48), (23.33, 0.24),
    (23.37, 0.28), (23.45, 0.03), (23.68, -0.51), (23.92, -0.86), (24.16, -1.00), (24.40, -0.87), (24.64, -0.49),
    (24.76, -0.24), (24.80, -0.28), (24.88, 0.02), (25.11, 0.52), (25.35, 0.86), (25.59, 1.00), (25.82, 0.87),
    (26.05, 0.51), (26.17, 0.26), (26.21, 0.30), (26.28, -0.01), (26.50, -0.49), (26.73, -0.87), (26.96, -1.00),
    (27.19, -0.86), (27.41, -0.50), (27.53, -0.22), (27.57, -0.26), (27.64, 0.03), (27.87, 0.48), (28.09, 0.86),
    (28.32, 1.00), (28.56, 0.86), (28.80, 0.49), (29.04, 0.02), (29.16, -0.24), (29.20, -0.20), (29.27, -0.52),
    (29.51, -0.86), (29.75, -1.00), (29.99, -0.87), (30.23, -0.51), (30.47, -0.02), (30.59, 0.24), (30.63, 0.20),
    (30.70, 0.50), (30.94, 0.87), (31.18, 1.00), (31.43, 0.86), (31.68, 0.52), (31.81, 0.28), (31.85, 0.32),
    (31.93, 0.01), (32.18, -0.48), (32.43, -0.87), (32.68, -1.00), (32.93, -0.86), (33.18, -0.49),
    (33.30, -0.22), (33.34, -0.26), (33.43, 0.02), (33.67, 0.51), (33.92, 0.86), (34.17, 1.00), (34.45, 0.87),
    (34.73, 0.50), (34.87, 0.24), (34.91, 0.28), (35.02, -0.03), (35.30, -0.50), (35.58, -0.87), (35.86, -1.00),
    (36.14, -0.86), (36.42, -0.48), (36.56, -0.22), (36.60, -0.26), (36.70, 0.02), (36.98, 0.51), (37.26, 0.87),
    (37.54, 1.00), (37.79, 0.86), (38.05, 0.50), (38.17, 0.26), (38.21, 0.30), (38.30, 0.01), (38.55, -0.50),
    (38.81, -0.86), (39.06, -1.00), (39.30, -0.90), (39.55, -0.75), (39.80, -0.58), (40.00, -0.50),
]

panel_tags = ['a', 'b', 'c', 'd']

W, H = 2254, 1652
red = '#ed1c24'
frame = '#555555'
fs = 62


def fx(x, y):
    return x / W, 1 - y / H


fig = plt.figure(figsize=(W / 100, H / 100), dpi=100)

# axes boxes in pixels: left, top
boxes = [(191, 13), (1333, 13), (191, 850), (1333, 850)]
aw, ah = 905, 713
traces = [trace_a, trace_b, trace_c, trace_d]

for (l, t), tr in zip(boxes, traces):
    ax = fig.add_axes([l / W, 1 - (t + ah) / H, aw / W, ah / H])
    tt, ss = zip(*tr)
    ax.plot(tt, ss, color=red, lw=1.9)
    ax.set_xlim(0, 40)
    ax.set_ylim(-1, 1)
    ax.set_xticks(np.arange(5, 40, 5))
    ax.set_yticks(np.arange(-0.8, 0.81, 0.2))
    ax.tick_params(direction='in', length=8, width=1.4, color=frame,
                   top=True, right=True, labelbottom=False, labelleft=False)
    for sp in ax.spines.values():
        sp.set_color(frame)
        sp.set_linewidth(1.5)

tag_pos = [(52, 56), (1161, 59), (54, 902), (1162, 898)]
one_pos = [(162, 42), (1298, 42), (169, 880), (1303, 878)]
sig_pos = [(92, 173), (1228, 170), (90, 1024), (1233, 1012)]
m1_pos = [(122, 719), (1262, 721), (122, 1560), (1265, 1560)]
xl_rows = [
    (809, [201, 646, 903, 1058], 805),
    (809, [1347, 1793, 2048, 2201], 805),
    (1636, [206, 647, 906, 1057], 1630),
    (1636, [1344, 1787, 2041, 2195], 1630),
]

for i in range(4):
    fig.text(*fx(*tag_pos[i]), '$' + panel_tags[i] + ')$', fontsize=fs, ha='center', va='center')
    fig.text(*fx(*one_pos[i]), '$1$', fontsize=fs, ha='center', va='center')
    fig.text(*fx(*sig_pos[i]), r'$\langle\hat{\sigma}_z\rangle$', fontsize=fs, ha='center', va='center')
    fig.text(*fx(*m1_pos[i]), '$-1$', fontsize=fs, ha='center', va='center')
    base, xs, base40 = xl_rows[i]
    fig.text(*fx(xs[0], base), '$0$', fontsize=fs, ha='center', va='baseline')
    fig.text(*fx(xs[1], base), '$20$', fontsize=fs, ha='center', va='baseline')
    fig.text(*fx(xs[2], base), r'$\omega t$', fontsize=fs, ha='center', va='baseline')
    fig.text(*fx(xs[3], base40), '$40$', fontsize=fs, ha='center', va='baseline')

fig.savefig('out.png', dpi=100)
